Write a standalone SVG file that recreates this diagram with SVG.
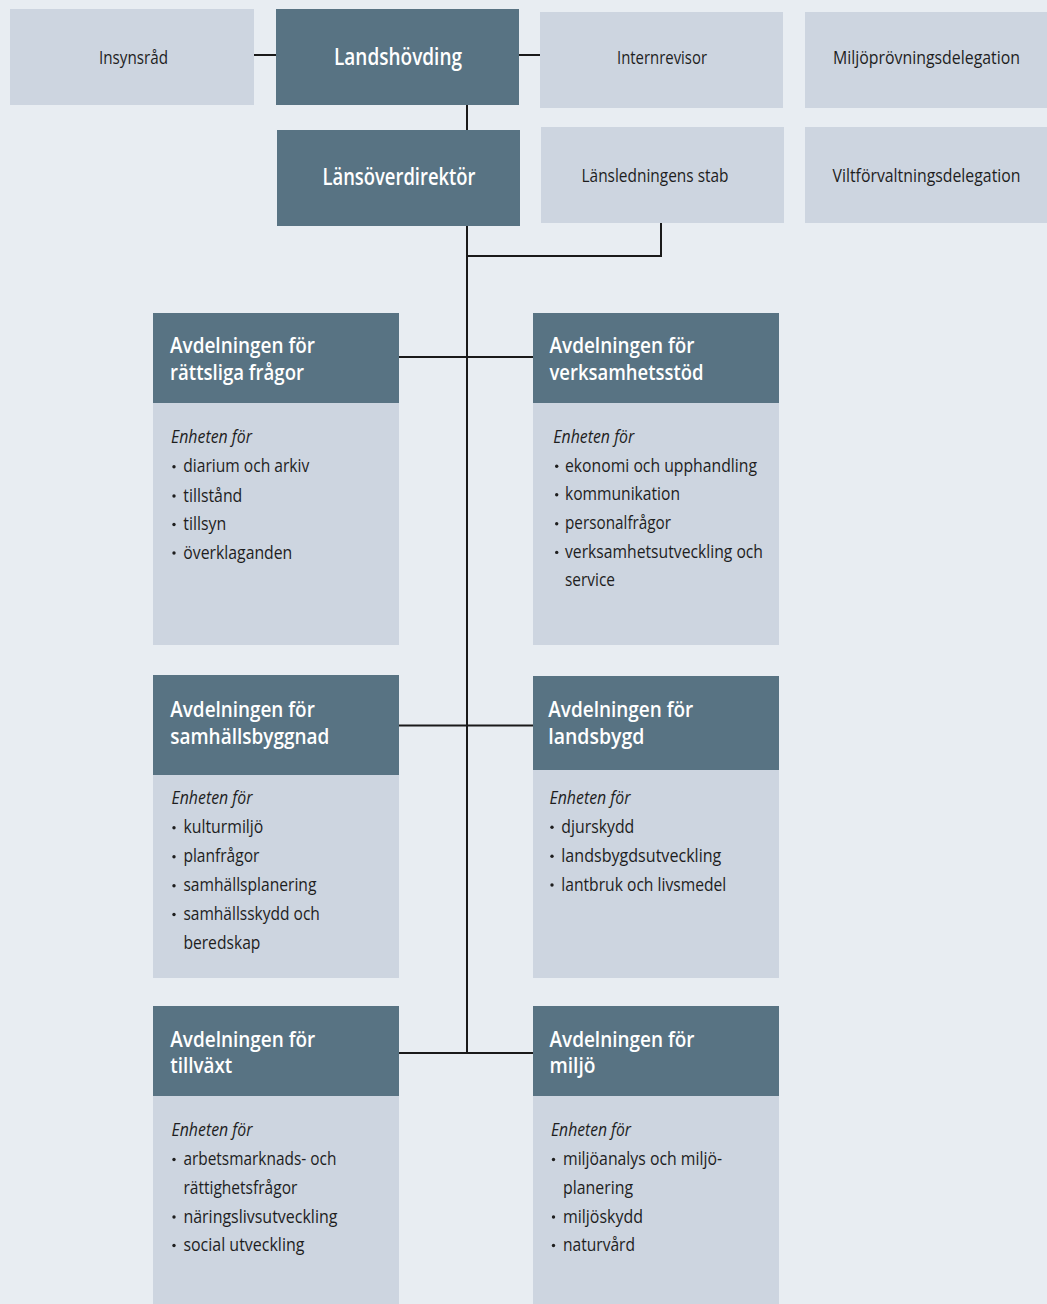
<svg xmlns="http://www.w3.org/2000/svg" width="1047" height="1304" viewBox="0 0 1047 1304">
<style>
.bg{fill:#e8edf2}
.lt{fill:#cdd5e0}
.dk{fill:#587383}
.t{font-family:"Open Sans","Liberation Sans",sans-serif;fill:#1e1e1e;font-size:18.5px}
.tw{font-family:"Open Sans","Liberation Sans",sans-serif;fill:#ffffff;font-size:22.5px;font-weight:600}
.h{font-family:"Open Sans","Liberation Sans",sans-serif;fill:#ffffff;font-size:22px;font-weight:600}
.b{font-family:"Open Sans","Liberation Sans",sans-serif;fill:#1e1e1e;font-size:18px}
.i{font-family:"Open Sans","Liberation Sans",sans-serif;fill:#1e1e1e;font-size:18px;font-style:italic}
.c{fill:none;stroke:#1a1a1a;stroke-width:2}
.dot{fill:#1e1e1e}
</style>
<rect class="bg" x="0" y="0" width="1047" height="1304"/>

<g id="connectors">
<path class="c" d="M254 55H276"/>
<path class="c" d="M519 55H540"/>
<path class="c" d="M467 105V130"/>
<path class="c" d="M467 226V1054"/>
<path class="c" d="M661 223V256H467"/>
<path class="c" d="M399 357H533"/>
<path class="c" d="M399 725.5H533"/>
<path class="c" d="M399 1053H533"/>
</g>

<g id="insynsrad">
<rect class="lt" x="10" y="9" width="244" height="96"/>
<text class="t" x="99" y="63.5" textLength="69" lengthAdjust="spacingAndGlyphs">Insynsråd</text>
</g>
<g id="landshovding">
<rect class="dk" x="276" y="9" width="243" height="96"/>
<text class="tw" x="334" y="65" textLength="128" lengthAdjust="spacingAndGlyphs">Landshövding</text>
</g>
<g id="internrevisor">
<rect class="lt" x="540" y="12" width="243" height="96"/>
<text class="t" x="617" y="63.5" textLength="90" lengthAdjust="spacingAndGlyphs">Internrevisor</text>
</g>
<g id="miljoprovningsdelegation">
<rect class="lt" x="805" y="12" width="242" height="96"/>
<text class="t" x="833" y="63.5" textLength="187" lengthAdjust="spacingAndGlyphs">Miljöprövningsdelegation</text>
</g>
<g id="lansoverdirektor">
<rect class="dk" x="277" y="130" width="243" height="96"/>
<text class="tw" x="322.5" y="184.5" textLength="153" lengthAdjust="spacingAndGlyphs">Länsöverdirektör</text>
</g>
<g id="lansledningens-stab">
<rect class="lt" x="541" y="127" width="243" height="96"/>
<text class="t" x="581.5" y="181.7" textLength="147" lengthAdjust="spacingAndGlyphs">Länsledningens stab</text>
</g>
<g id="viltforvaltningsdelegation">
<rect class="lt" x="805" y="127" width="242" height="96"/>
<text class="t" x="832.5" y="181.7" textLength="188" lengthAdjust="spacingAndGlyphs">Viltförvaltningsdelegation</text>
</g>

<g id="avd-rattsliga">
<rect class="dk" x="153" y="313" width="246" height="90"/>
<rect class="lt" x="153" y="403" width="246" height="242"/>
<text class="h" x="170" y="353.3" textLength="145" lengthAdjust="spacingAndGlyphs">Avdelningen för</text>
<text class="h" x="170" y="380" textLength="134" lengthAdjust="spacingAndGlyphs">rättsliga frågor</text>
<text class="i" x="171" y="442.7" textLength="81" lengthAdjust="spacingAndGlyphs">Enheten för</text>
<circle class="dot" cx="174" cy="466.8" r="1.7"/>
<text class="b" x="183.3" y="472.3" textLength="126" lengthAdjust="spacingAndGlyphs">diarium och arkiv</text>
<circle class="dot" cx="174" cy="496" r="1.7"/>
<text class="b" x="183.3" y="501.5" textLength="59" lengthAdjust="spacingAndGlyphs">tillstånd</text>
<circle class="dot" cx="174" cy="524.5" r="1.7"/>
<text class="b" x="183.3" y="530" textLength="43" lengthAdjust="spacingAndGlyphs">tillsyn</text>
<circle class="dot" cx="174" cy="553" r="1.7"/>
<text class="b" x="183.3" y="558.5" textLength="109" lengthAdjust="spacingAndGlyphs">överklaganden</text>
</g>

<g id="avd-verksamhetsstod">
<rect class="dk" x="533" y="313" width="246" height="90"/>
<rect class="lt" x="533" y="403" width="246" height="242"/>
<text class="h" x="549.5" y="353.3" textLength="145" lengthAdjust="spacingAndGlyphs">Avdelningen för</text>
<text class="h" x="549.5" y="380" textLength="154" lengthAdjust="spacingAndGlyphs">verksamhetsstöd</text>
<text class="i" x="553.3" y="442.7" textLength="81" lengthAdjust="spacingAndGlyphs">Enheten för</text>
<circle class="dot" cx="556.7" cy="466.2" r="1.7"/>
<text class="b" x="565" y="471.7" textLength="192" lengthAdjust="spacingAndGlyphs">ekonomi och upphandling</text>
<circle class="dot" cx="556.7" cy="494.8" r="1.7"/>
<text class="b" x="565" y="500.3" textLength="115" lengthAdjust="spacingAndGlyphs">kommunikation</text>
<circle class="dot" cx="556.7" cy="523.8" r="1.7"/>
<text class="b" x="565" y="529.3" textLength="106" lengthAdjust="spacingAndGlyphs">personalfrågor</text>
<circle class="dot" cx="556.7" cy="552.4" r="1.7"/>
<text class="b" x="565" y="557.9" textLength="198" lengthAdjust="spacingAndGlyphs">verksamhetsutveckling och</text>
<text class="b" x="565" y="586" textLength="50" lengthAdjust="spacingAndGlyphs">service</text>
</g>

<g id="avd-samhallsbyggnad">
<rect class="dk" x="153" y="675" width="246" height="100"/>
<rect class="lt" x="153" y="775" width="246" height="203"/>
<text class="h" x="170.3" y="717.3" textLength="144.5" lengthAdjust="spacingAndGlyphs">Avdelningen för</text>
<text class="h" x="170.3" y="743.5" textLength="159" lengthAdjust="spacingAndGlyphs">samhällsbyggnad</text>
<text class="i" x="171.5" y="804" textLength="81" lengthAdjust="spacingAndGlyphs">Enheten för</text>
<circle class="dot" cx="174" cy="827.8" r="1.7"/>
<text class="b" x="183.4" y="833.3" textLength="80" lengthAdjust="spacingAndGlyphs">kulturmiljö</text>
<circle class="dot" cx="174" cy="856.8" r="1.7"/>
<text class="b" x="183.4" y="862.3" textLength="76" lengthAdjust="spacingAndGlyphs">planfrågor</text>
<circle class="dot" cx="174" cy="885.7" r="1.7"/>
<text class="b" x="183.4" y="891.2" textLength="133" lengthAdjust="spacingAndGlyphs">samhällsplanering</text>
<circle class="dot" cx="174" cy="914.5" r="1.7"/>
<text class="b" x="183.4" y="920" textLength="136.5" lengthAdjust="spacingAndGlyphs">samhällsskydd och</text>
<text class="b" x="183.4" y="949" textLength="77" lengthAdjust="spacingAndGlyphs">beredskap</text>
</g>

<g id="avd-landsbygd">
<rect class="dk" x="533" y="676" width="246" height="94"/>
<rect class="lt" x="533" y="770" width="246" height="208"/>
<text class="h" x="548.3" y="717.3" textLength="145" lengthAdjust="spacingAndGlyphs">Avdelningen för</text>
<text class="h" x="548.3" y="743.5" textLength="96" lengthAdjust="spacingAndGlyphs">landsbygd</text>
<text class="i" x="549.5" y="804" textLength="81" lengthAdjust="spacingAndGlyphs">Enheten för</text>
<circle class="dot" cx="552" cy="827.2" r="1.7"/>
<text class="b" x="561.3" y="832.7" textLength="73" lengthAdjust="spacingAndGlyphs">djurskydd</text>
<circle class="dot" cx="552" cy="856.2" r="1.7"/>
<text class="b" x="561.3" y="861.7" textLength="160" lengthAdjust="spacingAndGlyphs">landsbygdsutveckling</text>
<circle class="dot" cx="552" cy="885" r="1.7"/>
<text class="b" x="561.3" y="890.5" textLength="165" lengthAdjust="spacingAndGlyphs">lantbruk och livsmedel</text>
</g>

<g id="avd-tillvaxt">
<rect class="dk" x="153" y="1006" width="246" height="90"/>
<rect class="lt" x="153" y="1096" width="246" height="208"/>
<text class="h" x="170.3" y="1047" textLength="145" lengthAdjust="spacingAndGlyphs">Avdelningen för</text>
<text class="h" x="170.3" y="1073" textLength="62" lengthAdjust="spacingAndGlyphs">tillväxt</text>
<text class="i" x="171.5" y="1136" textLength="81" lengthAdjust="spacingAndGlyphs">Enheten för</text>
<circle class="dot" cx="174" cy="1159.5" r="1.7"/>
<text class="b" x="183.4" y="1165" textLength="153" lengthAdjust="spacingAndGlyphs">arbetsmarknads- och</text>
<text class="b" x="183.4" y="1194" textLength="114" lengthAdjust="spacingAndGlyphs">rättighetsfrågor</text>
<circle class="dot" cx="174" cy="1217" r="1.7"/>
<text class="b" x="183.4" y="1222.5" textLength="154" lengthAdjust="spacingAndGlyphs">näringslivsutveckling</text>
<circle class="dot" cx="174" cy="1245.5" r="1.7"/>
<text class="b" x="183.4" y="1251" textLength="121" lengthAdjust="spacingAndGlyphs">social utveckling</text>
</g>

<g id="avd-miljo">
<rect class="dk" x="533" y="1006" width="246" height="90"/>
<rect class="lt" x="533" y="1096" width="246" height="208"/>
<text class="h" x="549.5" y="1047" textLength="145" lengthAdjust="spacingAndGlyphs">Avdelningen för</text>
<text class="h" x="549.5" y="1073" textLength="46" lengthAdjust="spacingAndGlyphs">miljö</text>
<text class="i" x="551" y="1136" textLength="80" lengthAdjust="spacingAndGlyphs">Enheten för</text>
<circle class="dot" cx="553.5" cy="1159.5" r="1.7"/>
<text class="b" x="563" y="1165" textLength="159" lengthAdjust="spacingAndGlyphs">miljöanalys och miljö-</text>
<text class="b" x="563" y="1194" textLength="70" lengthAdjust="spacingAndGlyphs">planering</text>
<circle class="dot" cx="553.5" cy="1217" r="1.7"/>
<text class="b" x="563" y="1222.5" textLength="80" lengthAdjust="spacingAndGlyphs">miljöskydd</text>
<circle class="dot" cx="553.5" cy="1245.5" r="1.7"/>
<text class="b" x="563" y="1251" textLength="72" lengthAdjust="spacingAndGlyphs">naturvård</text>
</g>
</svg>
